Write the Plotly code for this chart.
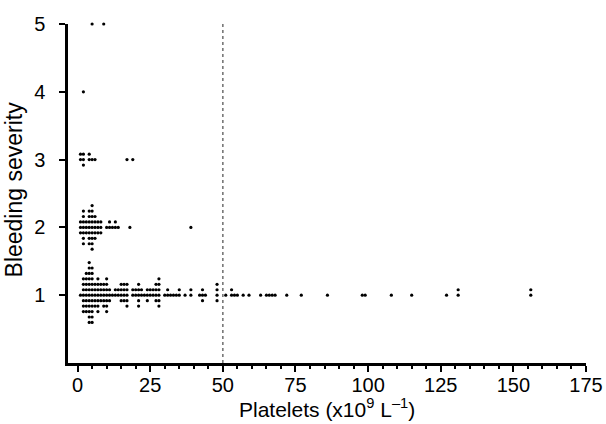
import plotly.graph_objects as go

# Platelet count (x10^9/L) : number of patients, per bleeding-severity grade
sev1_platelets = [1, 2, 3, 4, 5, 6, 7, 8, 9, 10, 11, 12, 13, 14, 15, 16, 17, 19, 20, 21, 22, 23,
                  24, 25, 26, 27, 28, 30, 31, 32, 33, 34, 35, 37, 39, 42, 43, 44, 48, 51, 53, 54,
                  55, 57, 59, 63, 65, 66, 67, 68, 72, 77, 86, 98, 99, 108, 115, 127, 131, 156]
sev1_counts = [1, 7, 8, 12, 11, 5, 7, 4, 5, 7, 3, 1, 2, 2, 4, 4, 5, 2, 2, 5, 2, 1,
               3, 2, 2, 4, 6, 1, 2, 1, 1, 1, 2, 1, 2, 1, 3, 1, 4, 1, 2, 1,
               1, 1, 1, 1, 1, 1, 1, 1, 1, 1, 1, 1, 1, 1, 1, 1, 2, 2]

sev2_platelets = [1, 2, 3, 4, 5, 6, 7, 8, 10, 11, 12, 13, 14, 18, 39]
sev2_counts = [3, 7, 3, 7, 9, 5, 3, 3, 1, 2, 1, 2, 1, 1, 1]

sev3_platelets = [1, 2, 4, 5, 6, 17, 19]
sev3_counts = [2, 3, 2, 1, 1, 1, 1]

sev4_platelets = [2]
sev4_counts = [1]

sev5_platelets = [5, 9]
sev5_counts = [1, 1]

groups = {
    1: (sev1_platelets, sev1_counts),
    2: (sev2_platelets, sev2_counts),
    3: (sev3_platelets, sev3_counts),
    4: (sev4_platelets, sev4_counts),
    5: (sev5_platelets, sev5_counts),
}

THRESHOLD = 50
x_ticks = [0, 25, 50, 75, 100, 125, 150, 175]
y_ticks = [1, 2, 3, 4, 5]
x_title = "Platelets (x10<sup>9</sup> L<sup>\u20131</sup>)"
y_title = "Bleeding severity"

# Layout: stack duplicate values vertically (0, +1, -1, +2, -2, ...)
STEP = 0.0803
xs, ys = [], []
for sev, (vals, cnts) in groups.items():
    for v, c in zip(vals, cnts):
        for k in range(c):
            idx = (k + 1) // 2 * (1 if k % 2 == 1 else -1)
            xs.append(v)
            ys.append(sev + idx * STEP)

fig = go.Figure()
fig.add_trace(go.Scatter(
    x=[THRESHOLD, THRESHOLD], y=[0, 5], mode="lines",
    line=dict(color="#6e6e6e", width=1.5, dash="dot"),
    hoverinfo="skip", showlegend=False))
fig.add_trace(go.Scatter(
    x=xs, y=ys, mode="markers",
    marker=dict(color="black", size=3.2, symbol="circle", line=dict(width=0)),
    cliponaxis=False, showlegend=False))

font_family = "Liberation Sans, Arial, sans-serif"
fig.update_layout(
    width=606, height=424,
    margin=dict(l=68, r=20, t=24, b=61, autoexpand=False),
    paper_bgcolor="white", plot_bgcolor="white",
    font=dict(family=font_family, color="black", size=20),
    xaxis=dict(
        range=[-3.3, 175], tickvals=x_ticks, ticks="outside", ticklen=6, tickwidth=2,
        tickcolor="black", showline=True, linewidth=2.5, linecolor="black",
        showgrid=False, zeroline=False, tickfont=dict(size=20), automargin=False,
        ticklabelstandoff=-4,
        minor=dict(dtick=5, tick0=0, ticks="outside", ticklen=3.5, tickwidth=1.5, tickcolor="black"),
    ),
    yaxis=dict(
        range=[0, 5], tickvals=y_ticks, ticks="outside", ticklen=6, tickwidth=2,
        tickcolor="black", showline=True, linewidth=2.5, linecolor="black",
        showgrid=False, zeroline=False, tickfont=dict(size=20), automargin=False,
        ticklabelstandoff=10,
    ),
    annotations=[
        dict(text=x_title, xref="paper", yref="paper", x=0.5, y=-0.1327,
             xanchor="center", yanchor="middle", showarrow=False,
             font=dict(size=21)),
        dict(text=y_title, xref="paper", yref="paper", x=-0.1042, y=0.512,
             xanchor="center", yanchor="middle", showarrow=False, textangle=-90,
             font=dict(size=23)),
    ],
)

fig.write_html(
    "out.html",
    config={"displayModeBar": False},
    post_script="document.body.style.margin='0px';document.body.style.overflow='hidden';",
)
